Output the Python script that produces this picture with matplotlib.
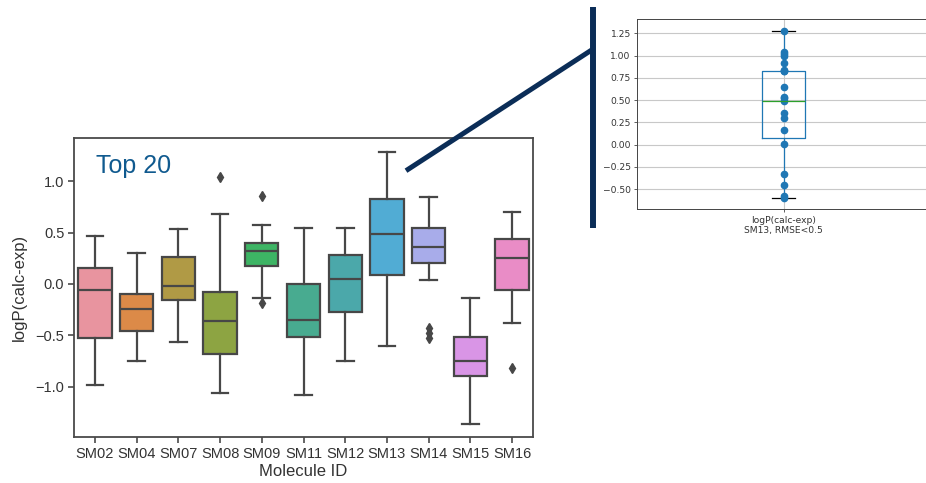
import matplotlib
matplotlib.use("Agg")
import matplotlib.pyplot as plt
from matplotlib.lines import Line2D

# ---------------- data ----------------
molecules = ["SM02", "SM04", "SM07", "SM08", "SM09", "SM11", "SM12", "SM13", "SM14", "SM15", "SM16"]
whis_low = [-0.98, -0.75, -0.57, -1.06, -0.14, -1.08, -0.75, -0.60, 0.04, -1.36, -0.38]
q1 = [-0.53, -0.46, -0.16, -0.68, 0.17, -0.52, -0.27, 0.09, 0.20, -0.90, -0.06]
median = [-0.06, -0.24, -0.02, -0.36, 0.32, -0.35, 0.05, 0.49, 0.36, -0.75, 0.25]
q3 = [0.15, -0.10, 0.26, -0.08, 0.40, 0.00, 0.28, 0.83, 0.54, -0.52, 0.44]
whis_high = [0.47, 0.30, 0.53, 0.68, 0.57, 0.54, 0.54, 1.28, 0.85, -0.14, 0.70]
fliers = [[], [], [], [1.04], [0.86, -0.19], [], [], [], [-0.43, -0.48, -0.53], [], [-0.82]]

main_yticks = [-1.0, -0.5, 0.0, 0.5, 1.0]

inset_points = [1.28, 1.04, 1.02, 0.99, 0.92, 0.84, 0.83, 0.83, 0.65, 0.54, 0.52, 0.49,
                0.36, 0.30, 0.16, 0.01, -0.33, -0.45, -0.58, -0.60]
inset_stats = dict(whislo=-0.60, q1=0.08, med=0.49, q3=0.83, whishi=1.28)
inset_tick_label = "logP(calc-exp)"
inset_xlabel = "SM13, RMSE<0.5"
inset_yticks = [-0.50, -0.25, 0.00, 0.25, 0.50, 0.75, 1.00, 1.25]

box_colors = ["#E8949F", "#DC8A48", "#B09A45", "#8DA442", "#3DB464", "#48AB90",
              "#4BA8AA", "#51ACD4", "#A8ACEA", "#D995E6", "#E98CC6"]

# ---------------- figure ----------------
W, H = 926, 483
fig = plt.figure(figsize=(W / 100, H / 100), dpi=100)
plt.rcParams['font.family'] = ['Liberation Sans', 'DejaVu Sans']
plt.rcParams['axes.unicode_minus'] = True


def fig_rect(x0, y0, x1, y1):
    return [x0 / W, 1 - y1 / H, (x1 - x0) / W, (y1 - y0) / H]


# ---------------- main axes ----------------
ax = fig.add_axes(fig_rect(74, 138, 533, 437))
edge = "#474747"

stats = []
for i, m in enumerate(molecules):
    stats.append(dict(label=m, whislo=whis_low[i], q1=q1[i], med=median[i],
                      q3=q3[i], whishi=whis_high[i], fliers=fliers[i]))

bp = ax.bxp(stats, positions=list(range(len(molecules))), widths=0.8,
            patch_artist=True, capwidths=0.4,
            boxprops=dict(edgecolor=edge, linewidth=1.6),
            medianprops=dict(color=edge, linewidth=1.6),
            whiskerprops=dict(color=edge, linewidth=1.6),
            capprops=dict(color=edge, linewidth=1.6),
            flierprops=dict(marker='d', markerfacecolor=edge, markeredgecolor=edge,
                            markersize=5.2, linestyle='none'))
for patch, c in zip(bp['boxes'], box_colors):
    patch.set_facecolor(c)

ax.set_xlim(-0.5, len(molecules) - 0.5)
ax.set_ylim(-1.49, 1.42)
ax.set_yticks(main_yticks)
ax.set_yticklabels([f"{v:.1f}".replace("-", "\u2212") for v in main_yticks])
ax.set_xticks(range(len(molecules)))
ax.set_xticklabels(molecules)
for s in ax.spines.values():
    s.set_color("#4a4a4a")
    s.set_linewidth(1.3)
ax.tick_params(axis='both', direction='out', length=4, width=1.2, color="#4a4a4a",
               labelsize=10.5, labelcolor="#333333", pad=3)
ax.set_xlabel("Molecule ID", fontsize=12, color="#333333", labelpad=2)
ax.set_ylabel("logP(calc-exp)", fontsize=12, color="#333333", labelpad=6)

ax.text(0.048, 0.884, "Top 20", transform=ax.transAxes, fontsize=18,
        color="#105a8f", va='baseline', ha='left',
        family=['Liberation Sans Narrow', 'Liberation Sans', 'DejaVu Sans'])

# ---------------- inset axes ----------------
ia = fig.add_axes(fig_rect(637, 19.3, 930, 209.3))
ia.set_axisbelow(True)
ia.grid(True, color="#c8c8c8", linewidth=0.8)
blue = "#1f77b4"
ia.bxp([dict(label=inset_tick_label, fliers=[], **inset_stats)], positions=[1],
       widths=0.15, capwidths=0.08,
       boxprops=dict(color=blue, linewidth=0.9),
       whiskerprops=dict(color=blue, linewidth=0.9),
       capprops=dict(color="black", linewidth=0.9),
       medianprops=dict(color="#2ca02c", linewidth=0.9))
ia.plot([1] * len(inset_points), inset_points, 'o', color=blue, markersize=4.5,
        linestyle='none')
ia.set_xlim(0.5, 1.5)
ia.set_ylim(-0.725, 1.407)
ia.set_yticks(inset_yticks)
ia.set_yticklabels([f"{v:.2f}".replace("-", "\u2212") for v in inset_yticks])
ia.set_xticks([1])
ia.set_xticklabels([inset_tick_label])
ia.set_xlabel(inset_xlabel, fontsize=6.6, color="#333333", labelpad=1,
              family=['DejaVu Sans'])
for lab in ia.get_xticklabels() + ia.get_yticklabels():
    lab.set_family(['DejaVu Sans'])
ia.tick_params(axis='both', labelsize=6.6, length=2.5, width=0.6, color="#444444",
               labelcolor="#333333", pad=2)
for s in ia.spines.values():
    s.set_color("#444444")
    s.set_linewidth(0.7)

# ---------------- connector lines ----------------
navy = "#0b2d57"


def fpt(x, y):
    return x / W, 1 - y / H


x0, y0 = fpt(593.3, 7.3)
x1, y1 = fpt(593.3, 227.7)
fig.add_artist(Line2D([x0, x1], [y0, y1], transform=fig.transFigure, color=navy,
                      linewidth=4.3, solid_capstyle='butt'))
x0, y0 = fpt(406, 170.7)
x1, y1 = fpt(592.7, 49.3)
fig.add_artist(Line2D([x0, x1], [y0, y1], transform=fig.transFigure, color=navy,
                      linewidth=3.6, solid_capstyle='butt'))

fig.savefig("out.png", dpi=100)
